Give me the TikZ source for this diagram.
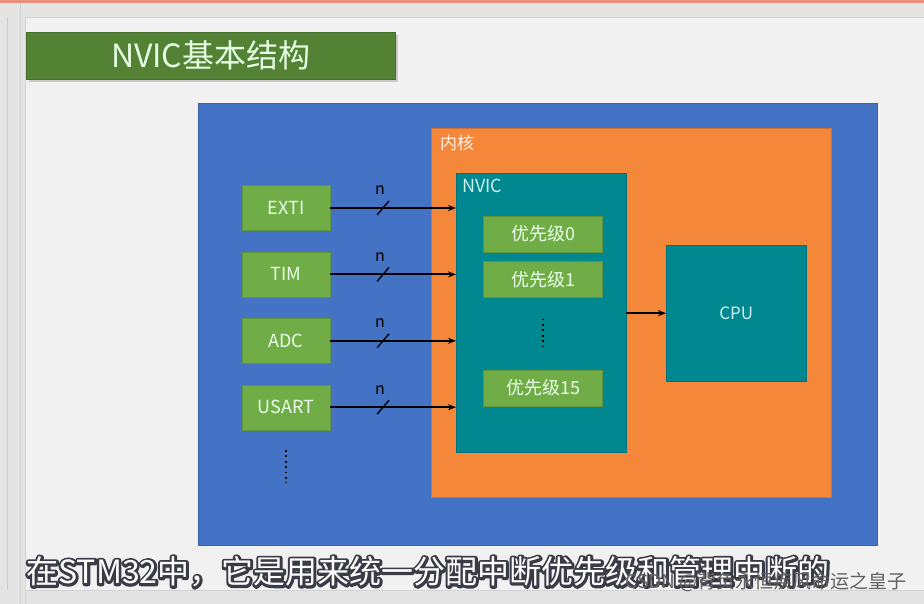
\documentclass[tikz,border=0pt]{standalone}
\usepackage{fontspec}
\setmainfont{Noto Sans CJK SC}
\usepackage{xcolor}
\usetikzlibrary{arrows.meta, positioning, shadows}
\definecolor{framegray}{HTML}{E4E4E4}
\definecolor{slidebg}{HTML}{F1F1F1}
\definecolor{topline}{HTML}{E8907A}
\definecolor{titlegreen}{HTML}{548235}
\definecolor{boxgreen}{HTML}{70AD47}
\definecolor{chipblue}{HTML}{4472C4}
\definecolor{coreorange}{HTML}{F5873A}
\definecolor{nvicteal}{HTML}{00878F}
\definecolor{tealtext}{HTML}{CDEFF0}
\newcommand{\outlined}[1]{%
  \rlap{\special{pdf:literal direct 0.23 0.23 0.28 RG 5 w 1 j 1 Tr}#1\special{pdf:literal direct 0 Tr 1 w}}#1}
\tikzset{
  panel/.style={rectangle, draw=#1!85!black, fill=#1, anchor=north west,
                inner sep=0pt},
  src/.style={rectangle, draw=boxgreen!85!black, fill=boxgreen, text=white!92!green,
              minimum width=88pt, minimum height=45pt, inner sep=0pt,
              font=\fontsize{18}{18}\selectfont},
  prio/.style={rectangle, draw=boxgreen!85!black, fill=boxgreen, text=white!92!green,
               minimum width=119pt, minimum height=36pt, inner sep=0pt,
               font=\fontsize{18}{18}\selectfont},
  tag/.style={inner sep=0pt, font=\fontsize{17}{17}\selectfont},
  bus/.style={-{Stealth[length=8pt, width=6pt]}, line width=1.8pt},
  dots/.style={line width=1.8pt, dash pattern=on 1.8pt off 3.6pt},
}

\begin{document}
\begin{tikzpicture}[x=1pt, y=-1pt, node distance=21pt]
\useasboundingbox (0,0) rectangle (924,604);
% screenshot frame
\fill[framegray] (0,0) rectangle (924,604);
\fill[topline] (0,0) rectangle (924,3);
\draw[gray!40] (7,17) -- (7,590);
\draw[gray!40] (20,3) -- (20,604);
\fill[slidebg] (25,17) rectangle (924,590);
\draw[gray!35] (25,604) -- (25,17) -- (924,17);
\draw[gray!35] (25,590) -- (924,590);

% title bar
\node[panel=titlegreen, drop shadow={shadow xshift=3pt, shadow yshift=-3pt, opacity=.35},
      minimum width=369pt, minimum height=47pt] (title) at (26,32) {};
\node[text=white!90!green, font=\fontsize{32}{32}\selectfont] (titletext) at (title.center) {NVIC基本结构};

% chip, core, NVIC, CPU
\node[panel=chipblue, minimum width=679pt, minimum height=442pt] (chip) at (198,103) {};
\node[panel=coreorange, minimum width=400pt, minimum height=369pt] (core) at (431,128) {};
\node[tag, text=white!90!orange, below right=7pt and 9pt of core.north west, anchor=north west] (coretag) {内核};
\node[panel=nvicteal, minimum width=170pt, minimum height=279pt] (nvic) at (456,173) {};
\node[tag, text=tealtext, font=\fontsize{18}{18}\selectfont,
      below right=6pt and 6pt of nvic.north west, anchor=north west] (nvictag) {NVIC};
\node[panel=nvicteal, minimum width=140pt, minimum height=136pt] (cpu) at (666,245) {};
\node[tag, text=tealtext] (cputag) at (cpu.center) {CPU};

% priority groups
\node[prio] (p0) at (543,234) {优先级0};
\node[prio, below=9pt of p0] (p1) {优先级1};
\node[prio] (p15) at (543,388) {优先级15};
\draw[dots] ([yshift=-21pt]p1.south) -- ([yshift=19pt]p15.north);

% interrupt sources
\node[src] (exti) at (286,208) {EXTI};
\node[src, below=of exti] (tim) {TIM};
\node[src, below=of tim] (adc) {ADC};
\node[src, below=of adc] (usart) {USART};
\draw[dots] ([yshift=-20pt]usart.south) -- ([yshift=-53pt]usart.south);

\foreach \s in {exti,tim,adc,usart} {
  \draw[bus] (\s.east) -- (\s.east -| nvic.west) coordinate[pos=0.42] (\s-m);
  \draw[line width=1.4pt] ([shift={(-6,7)}]\s-m) -- ([shift={(6,-7)}]\s-m);
  \node[anchor=base, font=\fontsize{16}{16}\selectfont] (\s-n) at ([shift={(-3,-13)}]\s-m) {n};
}
\draw[bus] (nvic.east |- cputag) -- (cpu.west |- cputag);

% subtitle
\node[text=white, font=\fontsize{32}{32}\selectfont] (subtitle) at (428,572)
  {\outlined{在STM32中，它是用来统一分配中断优先级和管理中断的}};
\node[text=gray!75!black, font=\fontsize{19}{19}\selectfont, anchor=east] (mark) at (910,582)
  {CSDN @背负永恒疾风命运之皇子};
\end{tikzpicture}
\end{document}
